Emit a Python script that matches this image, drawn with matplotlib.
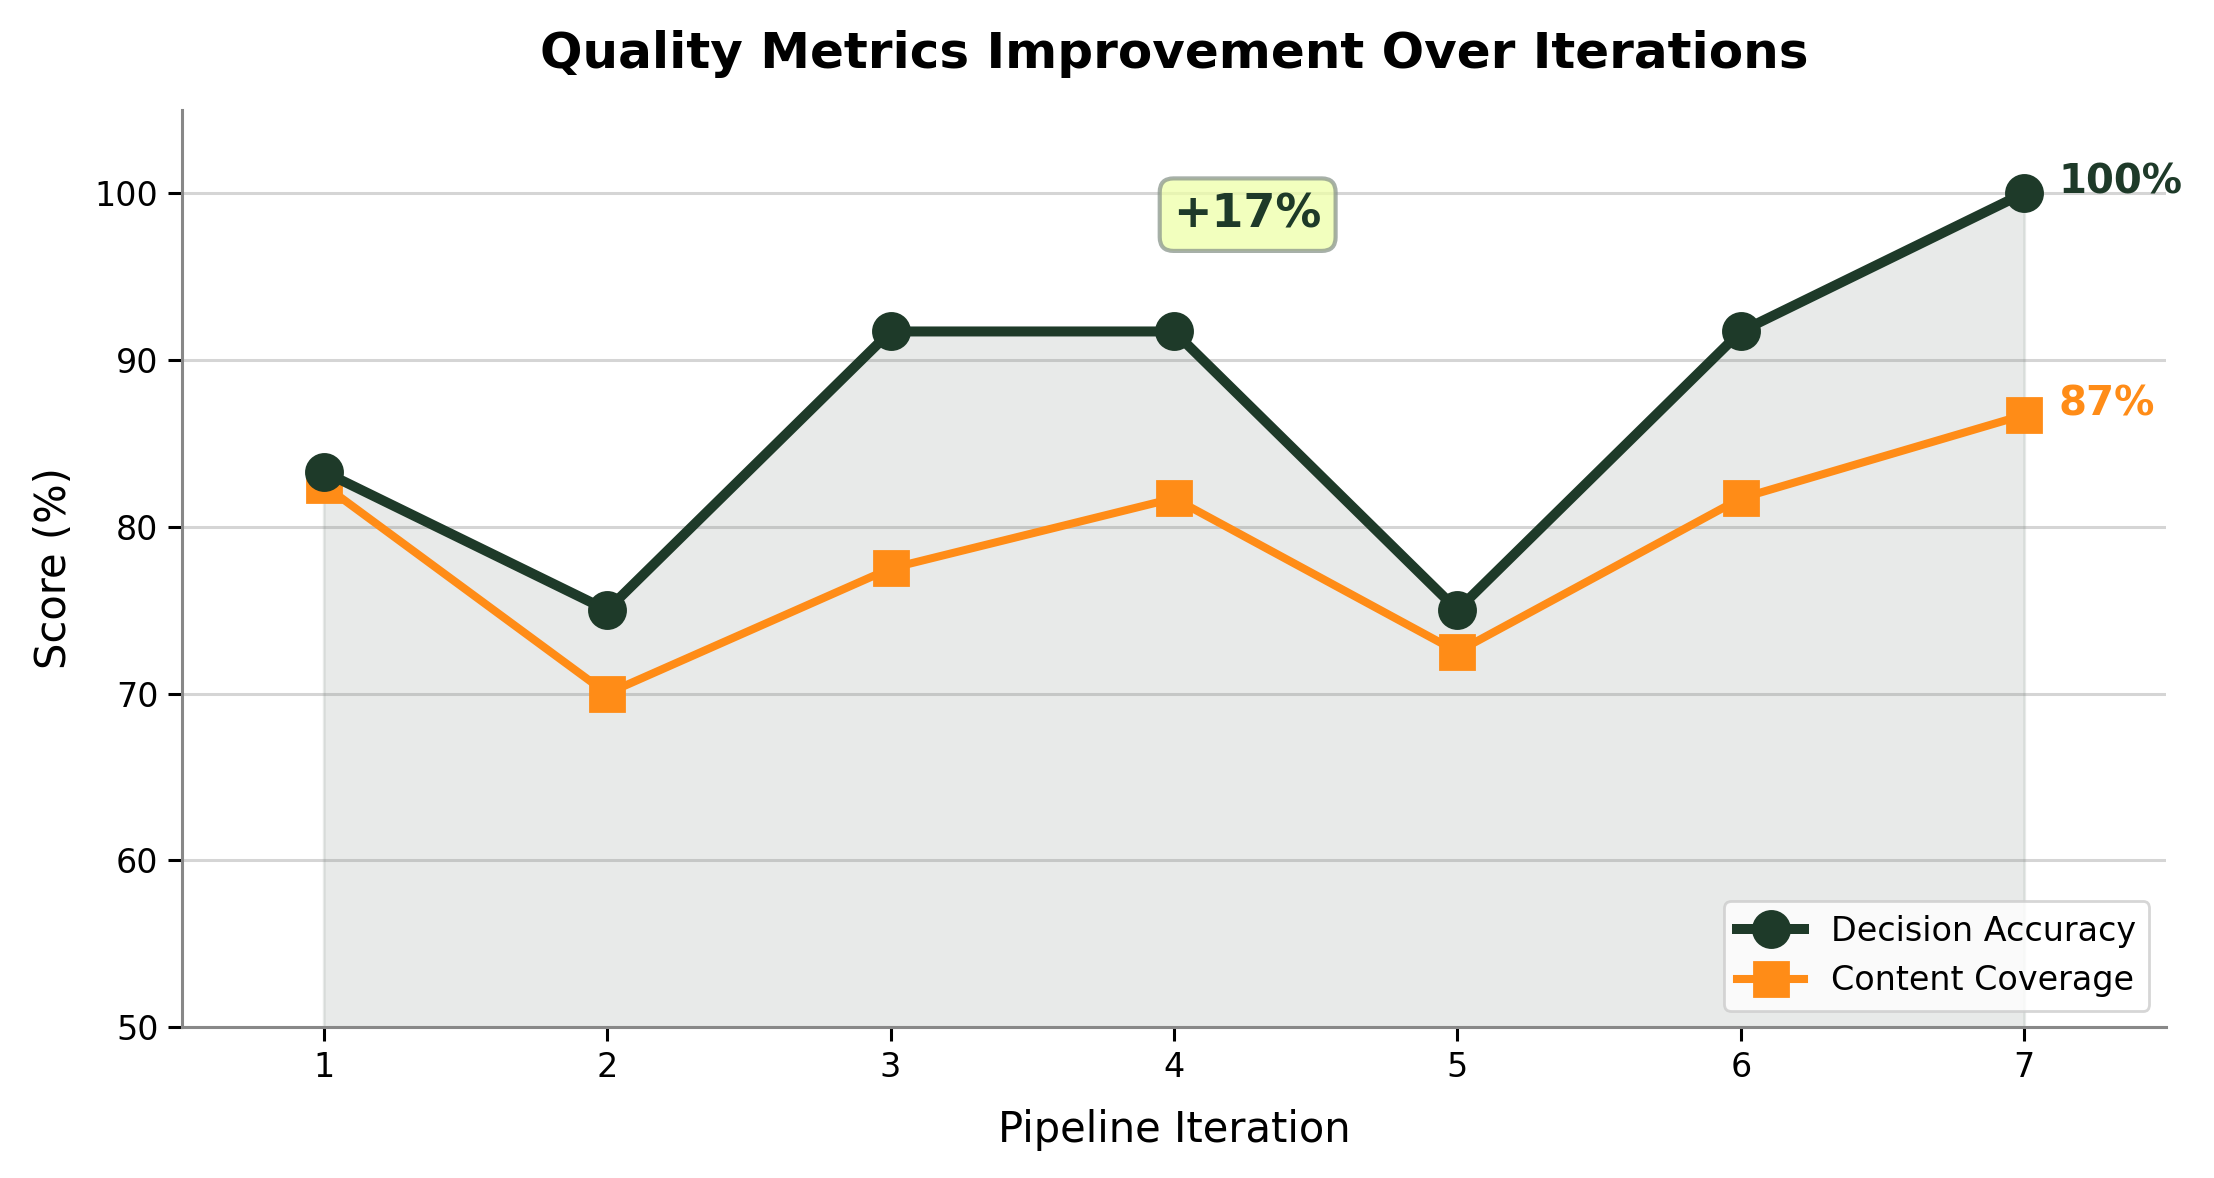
import matplotlib
matplotlib.use("Agg")
import matplotlib.pyplot as plt
import numpy as np

# data
iterations = [1, 2, 3, 4, 5, 6, 7]
decision_accuracy = [83.3, 75.0, 91.7, 91.7, 75.0, 91.7, 100.0]
content_coverage = [82.5, 70.0, 77.5, 81.7, 72.5, 81.7, 86.7]
gain_label = "+17%"

DARK = "#1e3a29"
ORANGE = "#ff8c17"

fig, ax = plt.subplots(figsize=(11.07, 5.89), dpi=200)
fig.subplots_adjust(left=0.0822, right=0.9783, top=0.907, bottom=0.128)

ax.fill_between(iterations, decision_accuracy, 50, color=DARK, alpha=0.1)
ax.plot(iterations, decision_accuracy, "-o", color=DARK, linewidth=3.6,
        markersize=13, label="Decision Accuracy", zorder=4)
ax.plot(iterations, content_coverage, "-s", color=ORANGE, linewidth=2.9,
        markersize=12, label="Content Coverage", zorder=3)

# end labels
ax.text(iterations[-1] + 0.12, decision_accuracy[-1] + 0.6,
        f"{decision_accuracy[-1]:.0f}%", color=DARK, fontsize=14.5,
        fontweight="bold", va="center", ha="left")
ax.text(iterations[-1] + 0.12, content_coverage[-1] + 0.6,
        f"{content_coverage[-1]:.0f}%", color=ORANGE, fontsize=14.5,
        fontweight="bold", va="center", ha="left")

ax.text(4.26, 98.7, gain_label, color=DARK, fontsize=16.5, fontweight="bold",
        ha="center", va="center",
        bbox=dict(boxstyle="round,pad=0.3", facecolor="#eeffa8",
                  edgecolor="#8a968c", linewidth=1.5, alpha=0.75))

ax.set_xlim(0.5, 7.5)
ax.set_ylim(50, 105)
ax.set_xticks(iterations)
ax.set_yticks([50, 60, 70, 80, 90, 100])
ax.tick_params(labelsize=12, length=5, width=1.1)

ax.set_xlabel("Pipeline Iteration", fontsize=15, labelpad=9)
ax.set_ylabel("Score (%)", fontsize=15, labelpad=7)
ax.set_title("Quality Metrics Improvement Over Iterations", fontsize=18,
             fontweight="bold", pad=15)

ax.grid(True, axis="y", color="gray", alpha=0.33, linewidth=1.1)
for side in ["top", "right"]:
    ax.spines[side].set_visible(False)
for side in ["left", "bottom"]:
    ax.spines[side].set_color("#888888")
    ax.spines[side].set_linewidth(1.1)

ax.legend(loc="lower right", fontsize=12)

fig.savefig("out.png", dpi=200)
plt.close(fig)
